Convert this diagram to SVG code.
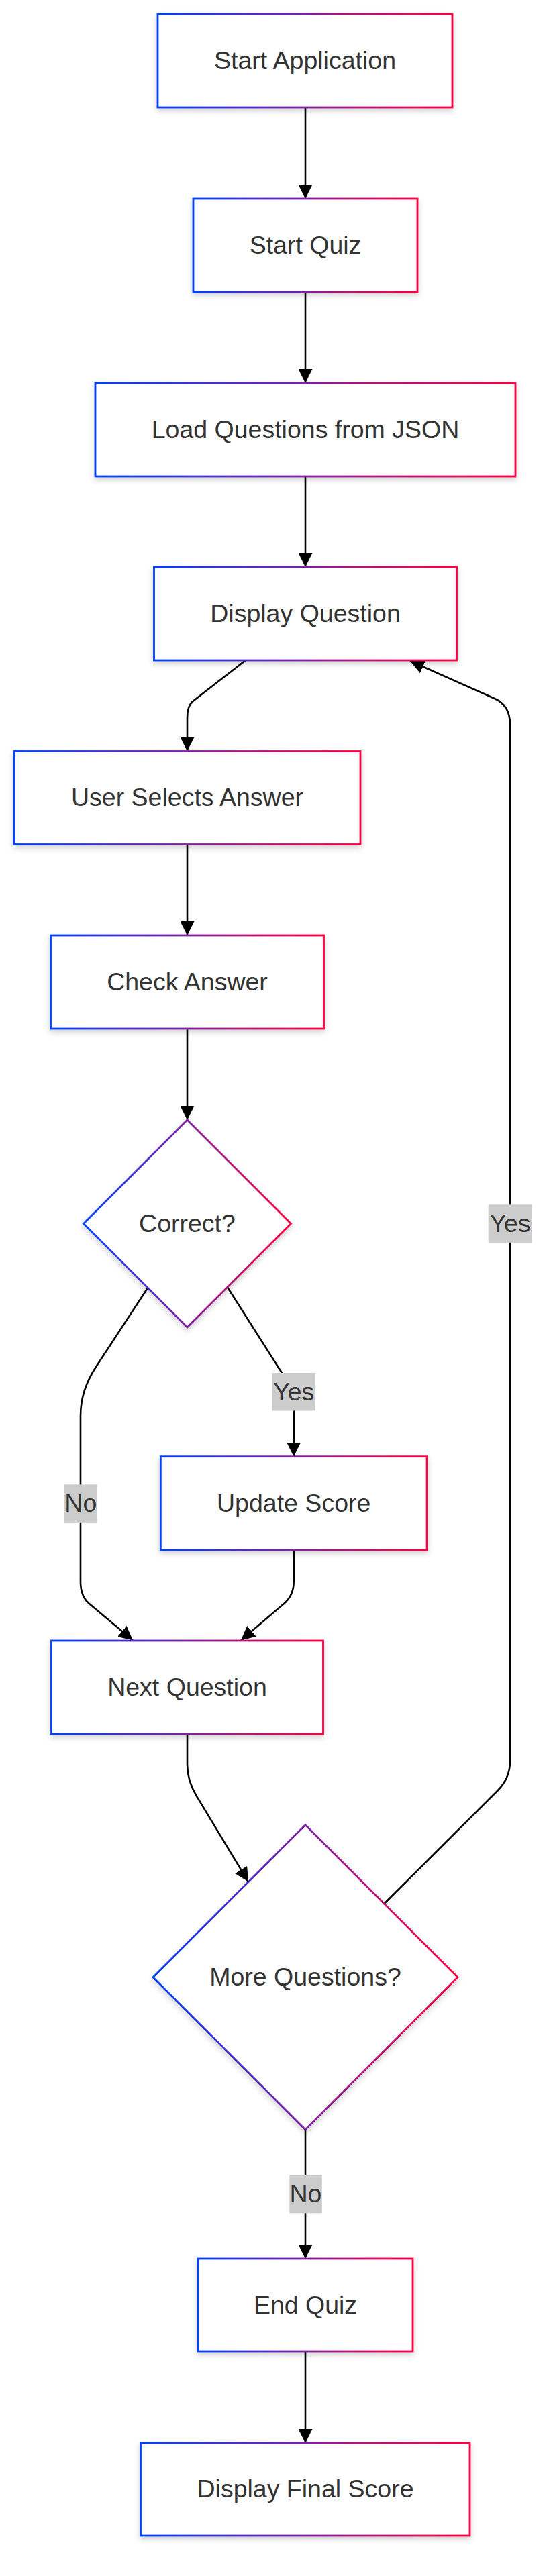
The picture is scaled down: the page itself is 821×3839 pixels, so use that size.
<svg xmlns="http://www.w3.org/2000/svg" width="821" height="3839" viewBox="0 0 821 3839">
<defs>
<linearGradient id="grad" x1="0" y1="0" x2="1" y2="0">
<stop offset="0" stop-color="#0040ff"/>
<stop offset="1" stop-color="#ff0040"/>
</linearGradient>
<filter id="sh" x="-10%" y="-10%" width="120%" height="130%">
<feDropShadow dx="0" dy="4" stdDeviation="4" flood-color="#000" flood-opacity="0.18"/>
</filter>
<marker id="arr" viewBox="0 0 10 10" refX="10" refY="5" markerUnits="userSpaceOnUse" markerWidth="21" markerHeight="21" orient="auto">
<path d="M0,0 L10,5 L0,10 z" fill="#000"/>
</marker>
<style>
.n{fill:#fff;stroke:url(#grad);stroke-width:2.8;filter:url(#sh)}
.t{font-family:"Liberation Sans",Arial,sans-serif;font-size:37.5px;fill:#333;text-anchor:middle}
.e{fill:none;stroke:#000;stroke-width:2.6;marker-end:url(#arr)}
.lb{fill:#cccccc}
</style>
</defs>
<rect width="821" height="3839" fill="#fff"/>
<g id="connectors">
<path class="e" d="M455,160 L455,296"/>
<path class="e" d="M455,435 L455,571"/>
<path class="e" d="M455,710 L455,845"/>
<path class="e" d="M366,984 L288,1044.5 Q279,1051.5 279,1070 L279,1119.5"/>
<path class="e" d="M279,1258.5 L279,1394"/>
<path class="e" d="M279,1533 L279,1669"/>
<path class="e" d="M339,1918.5 L420,2046 Q437.7,2073.7 437.7,2100 L437.7,2170.7"/>
<path class="e" d="M220,1919.5 L143,2037 Q120,2072 120,2110 L120,2357 Q120,2379 133,2390 L198,2444.5"/>
<path class="e" d="M437.7,2310 L437.7,2357 Q437.7,2377.6 423,2390 L359,2444.5"/>
<path class="e" d="M279,2584 L279,2630 Q279,2653.6 293,2676.8 L370,2804.5"/>
<path class="e" d="M573,2836.5 L741,2669 Q760,2650 760,2625 L760,1080 Q760,1051 737,1041 L611,985"/>
<path class="e" d="M455,3173.7 L455,3366"/>
<path class="e" d="M455,3504 L455,3641"/>
<rect class="lb" x="405.4" y="2046" width="64.6" height="56.5"/>
<text class="t" x="437.7" y="2086.5">Yes</text>
<rect class="lb" x="96" y="2212.3" width="48.5" height="56.5"/>
<text class="t" x="120.3" y="2252.8">No</text>
<rect class="lb" x="727.7" y="1795.3" width="64.6" height="56.5"/>
<text class="t" x="760" y="1835.8">Yes</text>
<rect class="lb" x="431.3" y="3241.8" width="48.5" height="56.5"/>
<text class="t" x="455.5" y="3282.3">No</text>
</g>
<g id="start-app"><rect class="n" x="235" y="21" width="439" height="139"/><text class="t" x="454.5" y="103">Start Application</text></g>
<g id="start-quiz"><rect class="n" x="288" y="296" width="334" height="139"/><text class="t" x="455" y="378">Start Quiz</text></g>
<g id="load-questions"><rect class="n" x="142" y="571" width="626" height="139"/><text class="t" x="455" y="653">Load Questions from JSON</text></g>
<g id="display-question"><rect class="n" x="229.5" y="845" width="451" height="139"/><text class="t" x="455" y="927">Display Question</text></g>
<g id="user-selects"><rect class="n" x="21" y="1119.5" width="516" height="139"/><text class="t" x="279" y="1201">User Selects Answer</text></g>
<g id="check-answer"><rect class="n" x="75.5" y="1394" width="407" height="139"/><text class="t" x="279" y="1476">Check Answer</text></g>
<g id="correct"><polygon class="n" points="279,1669 433.5,1823.5 279,1978 124.5,1823.5"/><text class="t" x="279" y="1835.5">Correct?</text></g>
<g id="update-score"><rect class="n" x="239.3" y="2170.7" width="396.8" height="139.3"/><text class="t" x="437.7" y="2252.5">Update Score</text></g>
<g id="next-question"><rect class="n" x="76.5" y="2445" width="405" height="139"/><text class="t" x="279" y="2527">Next Question</text></g>
<g id="more-questions"><polygon class="n" points="455,2719.7 682,2946.7 455,3173.7 228,2946.7"/><text class="t" x="455" y="2958.5">More Questions?</text></g>
<g id="end-quiz"><rect class="n" x="295" y="3366" width="320" height="138"/><text class="t" x="455" y="3447.5">End Quiz</text></g>
<g id="display-final"><rect class="n" x="209.5" y="3641" width="490.5" height="138"/><text class="t" x="455" y="3722">Display Final Score</text></g>
</svg>
